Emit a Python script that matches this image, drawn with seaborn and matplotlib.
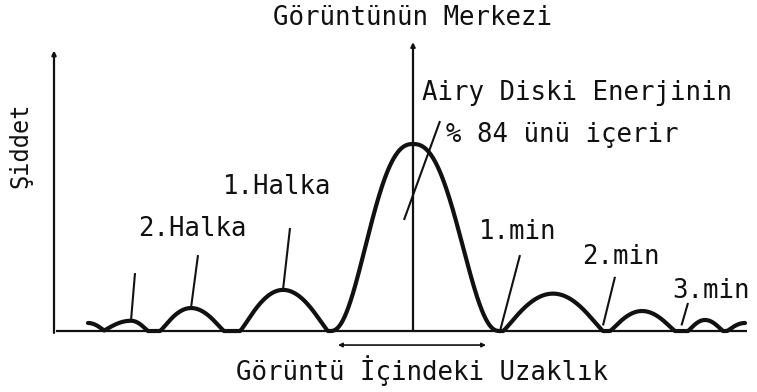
import numpy as np
import pandas as pd
import matplotlib
matplotlib.use("Agg")
import matplotlib.pyplot as plt
import seaborn as sns

# Lobes of the diffraction profile, left to right
# (distance from the image centre, intensity relative to the central peak)
lobe_start  = [-3.42, -3.10, -2.53, -1.73, -0.83, 0.90, 1.97, 2.75, 3.14]
lobe_peak   = [-3.25, -2.82, -2.22, -1.30,  0.00, 1.40, 2.29, 2.92, 3.32]
lobe_end    = [-3.08, -2.65, -1.89, -0.85,  0.87, 1.90, 2.62, 3.10, 3.50]
lobe_height = [0.043, 0.055, 0.123, 0.220, 1.000, 0.200, 0.107, 0.059, 0.043]
curve_range = [-3.25, 3.32]

# Index of each labelled lobe
CENTRE = 4
RING_1_LEFT, RING_2_LEFT, RING_3_LEFT = 3, 2, 1
RING_1_RIGHT, RING_2_RIGHT = 5, 6

title_text = "Görüntünün Merkezi"
xlabel_text = "Görüntü İçindeki Uzaklık"
ylabel_text = "Şiddet"
airy_text = ["Airy Diski Enerjinin", "% 84 ünü içerir"]
ring_labels = ["1.Halka", "2.Halka"]
min_labels = ["1.min", "2.min", "3.min"]

# arch shape of each lobe: broad rounded top for the central disc,
# plain arches for the rings
shape_p = [2.0, 2.0, 2.0, 2.0, 2.4, 2.0, 2.0, 2.0, 2.0]
shape_q = [1.2, 1.2, 1.2, 1.2, 2.6, 1.2, 1.2, 1.2, 1.2]


def lobe_profile(x, a, c, b, h, p, q):
    u = np.where(x < c, (c - x) / (c - a), (x - c) / (b - c))
    return h * np.clip(1.0 - u ** p, 0.0, None) ** q


x = np.linspace(curve_range[0], curve_range[1], 3000)
y = np.zeros_like(x)
for params in zip(lobe_start, lobe_peak, lobe_end, lobe_height, shape_p, shape_q):
    y = np.maximum(y, lobe_profile(x, *params))
profile = pd.DataFrame({"uzaklik": x, "siddet": y})

sns.set_style("white")
plt.rcParams["font.family"] = ["DejaVu Sans Mono", "DejaVu Sans"]

fig = plt.figure(figsize=(7.57, 3.92), dpi=100)
ax = fig.add_axes([0, 0, 1, 1])
ax.set_xlim(-4.13, 3.44)
ax.set_ylim(-0.326, 1.770)
ax.set_axis_off()

ink = "#111111"

# intensity profile
sns.lineplot(data=profile, x="uzaklik", y="siddet", sort=False, estimator=None,
             color=ink, lw=3.0, ax=ax, legend=False)

# axes of the sketch
ax.plot([-3.57, 3.34], [0, 0], color=ink, lw=1.6, solid_capstyle="butt")
arrow = dict(arrowstyle="-|>", color=ink, lw=1.6, mutation_scale=6, shrinkA=0, shrinkB=0)
ax.annotate("", xy=(-3.59, 1.50), xytext=(-3.59, -0.01), arrowprops=arrow)
ax.annotate("", xy=(lobe_peak[CENTRE], 1.545), xytext=(lobe_peak[CENTRE], 0),
            arrowprops=arrow)
ax.annotate("", xy=(-0.75, -0.075), xytext=(0.73, -0.075),
            arrowprops=dict(arrowstyle="<|-|>", color=ink, lw=1.2, mutation_scale=6,
                            shrinkA=0, shrinkB=0))

fs = 18.5
ax.text(0.0, 1.674, title_text, ha="center", va="center", fontsize=fs, color=ink)
ax.text(0.09, -0.209, xlabel_text, ha="center", va="center", fontsize=fs, color=ink)
ax.text(-3.93, 0.995, ylabel_text, ha="center", va="center", rotation=90,
        fontsize=17, color=ink)

# Airy disc note
ax.text(0.09, 1.273, airy_text[0], ha="left", va="center", fontsize=fs, color=ink)
ax.text(0.33, 1.048, airy_text[1], ha="left", va="center", fontsize=fs, color=ink)
lead = dict(color=ink, lw=1.5, solid_capstyle="butt")
ax.plot([0.27, -0.09], [1.123, 0.594], **lead)

# ring labels and leaders to the ring peaks
ax.text(-1.36, 0.770, ring_labels[0], ha="center", va="center", fontsize=fs, color=ink)
ax.plot([-1.23, lobe_peak[RING_1_LEFT]], [0.551, lobe_height[RING_1_LEFT]], **lead)
ax.text(-2.21, 0.545, ring_labels[1], ha="center", va="center", fontsize=fs, color=ink)
ax.plot([-2.15, lobe_peak[RING_2_LEFT]], [0.406, lobe_height[RING_2_LEFT]], **lead)
ax.plot([-2.78, lobe_peak[RING_3_LEFT]], [0.310, lobe_height[RING_3_LEFT]], **lead)

# minima labels and leaders to the zeros
ax.text(1.05, 0.530, min_labels[0], ha="center", va="center", fontsize=fs, color=ink)
ax.plot([1.07, lobe_end[CENTRE]], [0.406, 0.0], **lead)
ax.text(2.08, 0.396, min_labels[1], ha="center", va="center", fontsize=fs, color=ink)
ax.plot([2.02, lobe_end[RING_1_RIGHT]], [0.290, 0.03], **lead)
ax.text(2.98, 0.214, min_labels[2], ha="center", va="center", fontsize=fs, color=ink)
ax.plot([2.75, (lobe_end[RING_2_RIGHT] + lobe_start[RING_2_RIGHT + 1]) / 2],
        [0.150, 0.03], **lead)

fig.savefig("out.png", dpi=100, facecolor="white")
